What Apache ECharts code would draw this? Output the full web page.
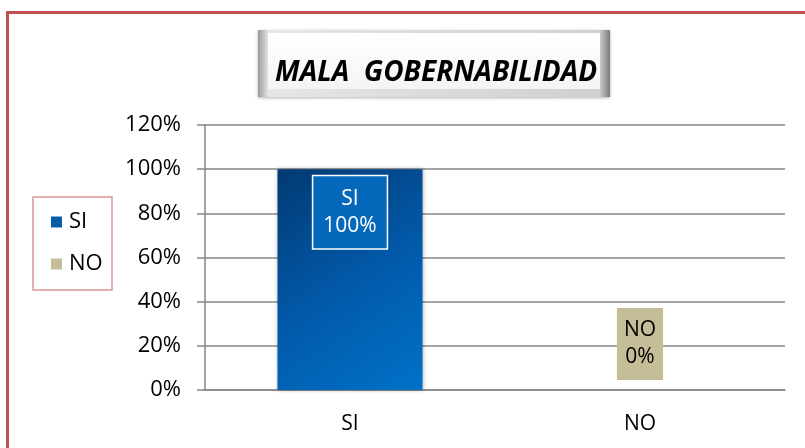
<!DOCTYPE html>
<html>
<head>
<meta charset="utf-8">
<script src="https://cdn.jsdelivr.net/npm/echarts@6/dist/echarts.min.js"></script>
<style>
  html, body { margin: 0; padding: 0; background: #fff; }
  #frame { position: absolute; left: 6px; top: 11px; width: 799px; height: 437px;
           border-top: 3px solid #c0504d; border-left: 3px solid #c0504d; box-sizing: border-box; }
  #container { position: absolute; left: 0; top: 0; width: 805px; height: 448px; }
</style>
</head>
<body>
<div id="frame"></div>
<div id="container"></div>
<script>
  // datos
  var categories = ['SI', 'NO'];
  var values = [100, 0];
  var yTicks = [0, 20, 40, 60, 80, 100, 120];
  var titleText = 'MALA  GOBERNABILIDAD';

  var fontName = '"Open Sans", sans-serif';
  var colores = {
    SI: new echarts.graphic.LinearGradient(0, 0, 1, 1, [
      {offset: 0, color: '#023a72'},
      {offset: 0.5, color: '#0258a8'},
      {offset: 1, color: '#0072c8'}
    ]),
    NO: '#c4bd97'
  };
  var legendColors = {SI: '#0a5cab', NO: '#c4bd97'};

  // una serie por categoria para que la leyenda muestre SI / NO
  var series = categories.map(function (cat, i) {
    var data = categories.map(function (c, j) { return j === i ? values[j] : '-'; });
    var isSI = cat === 'SI';
    return {
      name: cat,
      type: 'bar',
      data: data,
      barWidth: '50%',
      barGap: '-100%',
      itemStyle: {
        color: colores[cat],
        shadowBlur: isSI ? 4 : 0,
        shadowColor: 'rgba(0,0,0,0.35)'
      },
      label: {
        show: true,
        position: isSI ? 'insideTop' : 'top',
        distance: isSI ? 7 : 10,
        formatter: '{a}\n{c}%',
        fontFamily: fontName,
        fontSize: 21,
        lineHeight: 27,
        color: isSI ? '#fff' : '#000',
        backgroundColor: isSI ? '#0468bb' : '#c4bd97',
        borderColor: isSI ? '#fff' : 'transparent',
        borderWidth: isSI ? 1.5 : 0,
        padding: isSI ? [9, 10, 9, 10] : [9, 7, 9, 7]
      }
    };
  });

  var myChart = echarts.init(document.getElementById('container'));
  myChart.setOption({
    animation: false,
    textStyle: {fontFamily: fontName},
    title: {
      text: titleText,
      left: 270,
      top: 54,
      textStyle: {fontFamily: fontName, fontSize: 28, fontWeight: 'bold', fontStyle: 'italic', color: '#000'}
    },
    graphic: [
      {
        type: 'rect', z: -1,
        shape: {x: 258, y: 30, width: 352, height: 67},
        style: {
          fill: new echarts.graphic.LinearGradient(0, 0, 1, 0, [
            {offset: 0, color: '#9a9a9a'},
            {offset: 0.03, color: '#e6e6e6'},
            {offset: 0.97, color: '#d0d0d0'},
            {offset: 1, color: '#7a7a7a'}
          ]),
          shadowBlur: 3, shadowColor: 'rgba(0,0,0,0.3)', shadowOffsetY: 1
        }
      },
      {
        type: 'rect', z: -1,
        shape: {x: 268, y: 33, width: 332, height: 56},
        style: {
          fill: new echarts.graphic.LinearGradient(0, 0, 0, 1, [
            {offset: 0, color: '#ffffff'},
            {offset: 1, color: '#f4f4f4'}
          ])
        }
      },
      {
        type: 'rect', z: -1,
        shape: {x: 33, y: 197, width: 79, height: 93},
        style: {fill: 'none', stroke: '#d99694', lineWidth: 1.5}
      }
    ],
    legend: {
      orient: 'vertical',
      left: 46,
      top: 206,
      itemWidth: 11,
      itemHeight: 11,
      itemGap: 20,
      icon: 'rect',
      data: categories.map(function (c) {
        return {name: c, itemStyle: {color: legendColors[c]}};
      }),
      textStyle: {fontFamily: fontName, fontSize: 22, color: '#000', padding: [0, 0, 0, 2]}
    },
    grid: {left: 205, right: 20, top: 125, bottom: 58},
    xAxis: {
      type: 'category',
      data: categories,
      axisLine: {lineStyle: {color: '#868686', width: 1.5}},
      axisTick: {length: 7, lineStyle: {color: '#868686', width: 1.5}},
      axisLabel: {fontFamily: fontName, fontSize: 21, color: '#000', margin: 24}
    },
    yAxis: {
      type: 'value',
      min: yTicks[0],
      max: yTicks[yTicks.length - 1],
      interval: yTicks[1] - yTicks[0],
      axisLine: {show: true, lineStyle: {color: '#868686', width: 1.5}},
      axisTick: {show: true, length: 8, lineStyle: {color: '#868686', width: 1.5}},
      splitLine: {lineStyle: {color: '#868686', width: 1.5}},
      axisLabel: {formatter: '{value}%', fontFamily: fontName, fontSize: 22, color: '#000', margin: 24}
    },
    series: series
  });
</script>
</body>
</html>
